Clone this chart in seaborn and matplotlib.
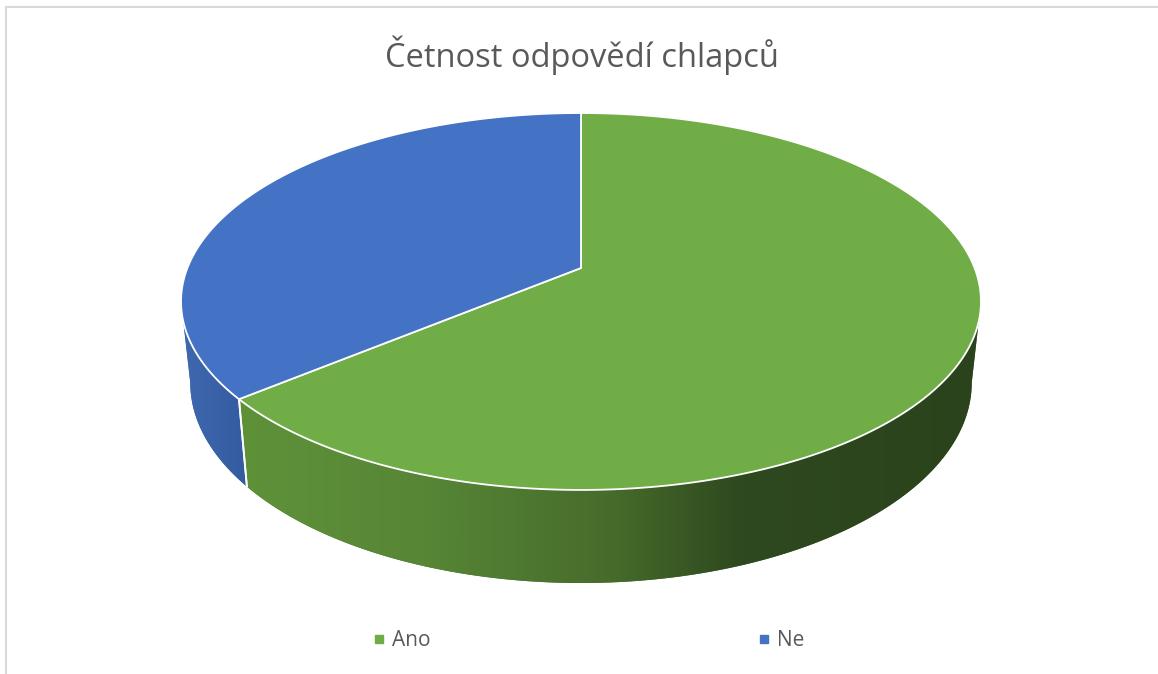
import numpy as np
import matplotlib
matplotlib.use("Agg")
import matplotlib.pyplot as plt
from matplotlib.patches import Polygon
from matplotlib.lines import Line2D
from matplotlib.colors import LinearSegmentedColormap
import seaborn as sns

# Data
title = "Četnost odpovědí chlapců"
categories = ["Ano", "Ne"]
values = [16, 9]
top_colors = ["#70AD47", "#4472C4"]
side_stops = [
    [(0.0, "#5f9139"), (0.25, "#578636"), (0.5, "#466c2b"), (0.68, "#2e481f"), (1.0, "#2b431c")],
    [(0.0, "#4068b0"), (0.5, "#3a62a8"), (1.0, "#345b9e")],
]

sns.set_theme(style="white")
plt.rcParams["font.family"] = ["Open Sans", "DejaVu Sans"]

W, H = 1158, 674
fig = plt.figure(figsize=(W / 100, H / 100), dpi=100)
ax = fig.add_axes([0, 0, 1, 1])
ax.set_axis_off()

# axes units: one unit = 400 px, origin at the projected pie centre
scale = 400.0
cx_px, cy_px = 581, 268
xlim = (-cx_px / scale, (W - cx_px) / scale)
ylim = ((cy_px - H) / scale, cy_px / scale)

# perspective view of the disc: top face and bottom face of the cylinder
persp = 0.1777
top_disc = dict(a=393.6 / scale, b=182.5 / scale, y0=0.0)
bot_disc = dict(a=384.5 / scale, b=193.9 / scale, y0=-(347.2 - cy_px) / scale)


def project(t, disc):
    u, v = np.sin(t), np.cos(t)  # angle measured clockwise from 12 o'clock
    d = 1 + persp * v
    return np.column_stack([disc["a"] * u / d, disc["y0"] + disc["b"] * v / d])


fracs = np.array(values, dtype=float) / np.sum(values)
bounds = np.concatenate([[0], np.cumsum(fracs)]) * 2 * np.pi

# visible part of the wall lies between the two silhouette tangents
t_sil = np.arccos(-persp)
vis0, vis1 = t_sil, 2 * np.pi - t_sil

for i in range(len(values)):
    a0 = max(bounds[i], vis0)
    a1 = min(bounds[i + 1], vis1)
    if a1 <= a0:
        continue
    t = np.linspace(a0, a1, 300)
    verts = np.vstack([project(t, top_disc), project(t[::-1], bot_disc)])
    cmap = LinearSegmentedColormap.from_list(f"side{i}", side_stops[i])
    ax.add_patch(Polygon(verts, closed=True, facecolor=cmap(0.5), edgecolor="none", zorder=1))
    clip = Polygon(verts, closed=True, facecolor="none", edgecolor="none", transform=ax.transData)
    ax.add_patch(clip)
    grad = np.linspace(0, 1, 512).reshape(1, -1)
    im = ax.imshow(grad, cmap=cmap,
                   extent=[verts[:, 0].min(), verts[:, 0].max(), verts[:, 1].min(), verts[:, 1].max()],
                   aspect="auto", interpolation="bilinear", zorder=2)
    im.set_clip_path(clip)
    for b in (bounds[i], bounds[i + 1]):
        if vis0 < b < vis1:
            p0 = project(np.array([b]), top_disc)[0]
            p1 = project(np.array([b]), bot_disc)[0]
            ax.plot([p0[0], p1[0]], [p0[1], p1[1]], color="white", lw=1.3, zorder=3)

# top faces
for i in range(len(values)):
    t = np.linspace(bounds[i], bounds[i + 1], 400)
    verts = np.vstack([[0, 0], project(t, top_disc)])
    ax.add_patch(Polygon(verts, closed=True, facecolor=top_colors[i], edgecolor="white",
                         linewidth=1.3, joinstyle="round", zorder=4))

ax.set_xlim(*xlim)
ax.set_ylim(*ylim)

# title
fig.text(582 / W, 1 - 55 / H, title, ha="center", va="center", fontsize=23.5, color="#595959")

# legend
handles = [Line2D([], [], marker="s", linestyle="none", markersize=5.5, color=c) for c in top_colors]
fig.legend(handles, categories, loc="center", bbox_to_anchor=(588.5 / W, 1 - 641 / H), ncol=2,
           frameon=False, fontsize=15, labelcolor="#595959", handlelength=0.6, handletextpad=0.3,
           columnspacing=15.75, borderpad=0)

# chart frame
fig.add_artist(Line2D([6 / W, 6 / W], [0, 1 - 7 / H], color="#d9d9d9", lw=1.5))
fig.add_artist(Line2D([6 / W, 1], [1 - 7 / H, 1 - 7 / H], color="#d9d9d9", lw=1.5))

fig.savefig("out.png", dpi=100, facecolor="white")
